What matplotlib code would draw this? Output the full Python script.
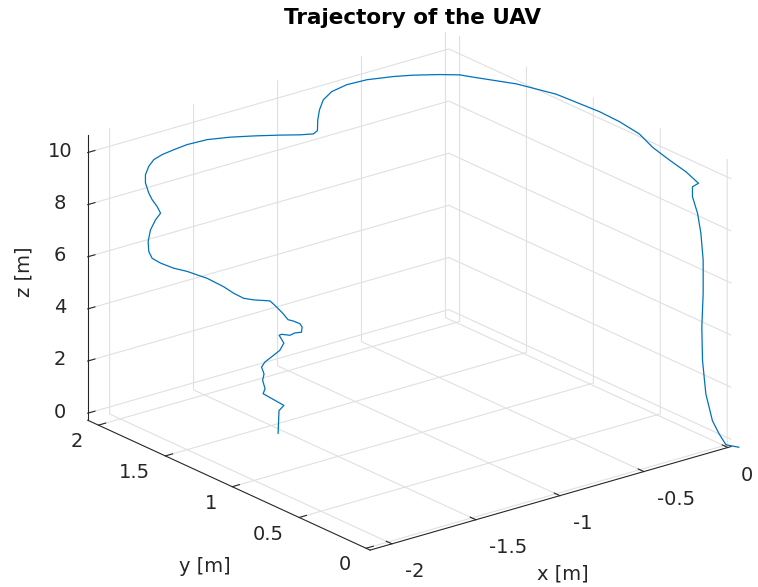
import matplotlib
matplotlib.use('Agg')
import matplotlib.pyplot as plt

plt.rcParams['font.family'] = ['DejaVu Sans']
plt.rcParams['axes.unicode_minus'] = False

# UAV path (metres)
x_m = [-1.536, -1.533, -1.515, -1.591, -1.584, -1.593, -1.588, -1.597, -1.585, -1.530,
       -1.515, -1.532, -1.524, -1.493, -1.475, -1.451, -1.448, -1.457, -1.481, -1.500,
       -1.518, -1.542, -1.566,
       -1.628, -1.648, -1.667, -1.679, -1.714, -1.734, -1.753, -1.785, -1.824, -1.850,
       -1.870, -1.874, -1.860, -1.830, -1.800, -1.820, -1.850, -1.870, -1.890, -1.890,
       -1.870, -1.840, -1.790, -1.721, -1.642, -1.523, -1.385, -1.246, -1.088, -0.969,
       -0.890, -0.866, -0.864, -0.854, -0.831, -0.781, -0.692,
       -0.610, -0.518, -0.451, -0.361, -0.288, -0.251, -0.125, -0.030, 0.010, 0.014,
       0.010, 0.010, 0.010, 0.010, 0.010, 0.010, 0.010, 0.010, 0.010, 0.010,
       0.010, 0.010, 0.010, 0.010, 0.010, 0.010, 0.010, 0.010, 0.042]
y_m = [1.403, 1.400, 1.386, 1.446, 1.440, 1.447, 1.443, 1.450, 1.441, 1.398,
       1.386, 1.400, 1.393, 1.369, 1.355, 1.335, 1.334, 1.340, 1.359, 1.374,
       1.388, 1.407, 1.426,
       1.47, 1.52, 1.57, 1.63, 1.71, 1.76, 1.81, 1.87, 1.92, 1.95,
       1.95, 1.95, 1.95, 1.95, 1.95, 1.95, 1.95, 1.95, 1.95, 1.95,
       1.95, 1.95, 1.95, 1.95, 1.95, 1.95, 1.95, 1.95, 1.95, 1.95,
       1.95, 1.95, 1.95, 1.95, 1.95, 1.95, 1.95,
       1.903, 1.820, 1.756, 1.670, 1.612, 1.559, 1.393, 1.215, 0.943, 0.798,
       0.644, 0.545, 0.420, 0.296, 0.202, 0.247, 0.247, 0.209, 0.184, 0.167,
       0.167, 0.177, 0.172, 0.147, 0.098, 0.048, -0.002, -0.002, -0.059]
z_m = [-0.27, 0.60, 0.80, 1.25, 1.44, 1.76, 2.01, 2.27, 2.46, 2.91,
       3.19, 3.49, 3.53, 3.49, 3.58, 3.61, 3.81, 3.94, 4.04, 4.09,
       4.32, 4.58, 4.81,
       4.86, 4.84, 4.95, 5.08, 5.28, 5.33, 5.38, 5.42, 5.57, 5.73,
       6.03, 6.42, 6.84, 7.17, 7.37, 7.66, 7.98, 8.27, 8.70, 9.01,
       9.30, 9.50, 9.60, 9.66, 9.71, 9.68, 9.52, 9.31, 9.05, 8.84,
       8.73, 8.81, 9.22, 9.58, 9.93, 10.15, 10.25,
       10.40, 10.55, 10.63, 10.69, 10.68, 10.65, 10.55, 10.40, 10.30, 10.25,
       10.15, 9.87, 9.68, 9.52, 9.30, 9.06, 8.68, 8.13, 7.42, 6.43,
       5.15, 3.85, 2.58, 1.35, 0.44, 0.05, -0.24, -0.25, -0.27]

x_ticks = [-2, -1.5, -1, -0.5, 0]
y_ticks = [0, 0.5, 1, 1.5, 2]
z_ticks = [0, 2, 4, 6, 8, 10]

fig = plt.figure(figsize=(7.58, 5.87), dpi=100)
ax = fig.add_axes([121.9 / 758, 8.9 / 587, 560 / 758, 560 / 587],
                  projection='3d', proj_type='ortho')

line, = ax.plot(x_m, y_m, z_m, color='#0072BD', linewidth=0.9)
line.set_clip_on(False)

ax.set_xlim(-2.13, 0.02)
ax.set_ylim(-0.03, 2.08)
ax.set_zlim(-0.27, 10.69)
ax.set_box_aspect((1.01, 1, 0.673), zoom=1.242)
ax.view_init(elev=21.3, azim=-128.3)

ax.set_xticks(x_ticks)
ax.set_xticklabels([f'{t:g}' for t in x_ticks])
ax.set_yticks(y_ticks)
ax.set_yticklabels([f'{t:g}' for t in y_ticks])
ax.set_zticks(z_ticks)
ax.set_zticklabels([f'{t:g}' for t in z_ticks])

for axis in (ax.xaxis, ax.yaxis, ax.zaxis):
    axis.set_pane_color((1, 1, 1, 1))
    axis.pane.set_edgecolor((1, 1, 1, 0))
    axis.line.set_color('#262626')
    axis.line.set_linewidth(0.8)
    axis._axinfo['grid'].update(color='#e0e0e0', linewidth=0.8)
    axis._axinfo['tick'].update(inward_factor=0.0, outward_factor=0.25)

ax.tick_params(colors='#262626', labelsize=14)
ax.tick_params(axis='x', pad=1.4)
ax.tick_params(axis='y', pad=1.0)
ax.tick_params(axis='z', pad=1.0)

# matlab-like alignment of the tick labels
for lab in ax.get_xticklabels():
    lab.set_horizontalalignment('left')
for lab in ax.get_yticklabels():
    lab.set_horizontalalignment('right')
    lab.set_verticalalignment('center')
for lab in ax.get_zticklabels():
    lab.set_verticalalignment('center')

# axis titles placed where the reference has them
fig.text(563 / 758, 1 - 574 / 587, 'x [m]', ha='center', va='center',
         fontsize=14, color='#262626')
fig.text(205 / 758, 1 - 567 / 587, 'y [m]', ha='center', va='center',
         fontsize=14, color='#262626')
fig.text(24 / 758, 1 - 272 / 587, 'z [m]', ha='center', va='center',
         fontsize=14, color='#262626', rotation=90)

fig.text(413 / 758, 1 - 18 / 587, 'Trajectory of the UAV', ha='center', va='center',
         fontsize=15.5, fontweight='bold', color='black')

fig.savefig('out.png', dpi=100)
